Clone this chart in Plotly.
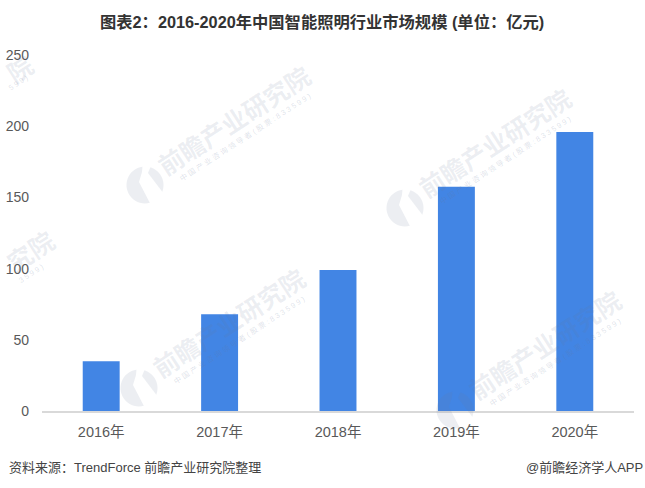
import math
import plotly.graph_objects as go

years = ["2016年", "2017年", "2018年", "2019年", "2020年"]
values = [35, 68, 99, 157.5, 196]
y_ticks = [0, 50, 100, 150, 200, 250]
title = "图表2：2016-2020年中国智能照明行业市场规模 (单位：亿元)"
source = "资料来源：TrendForce 前瞻产业研究院整理"
credit = "@前瞻经济学人APP"
mark_text = "前瞻产业研究院"
mark_sub = "中国产业咨询领导者(股票:833599)"

# ---- page geometry ----
W, H = 645, 488
L, R, T, B = 42, 634, 55, 411
FONT = "Liberation Sans, Noto Sans CJK SC, sans-serif"
INK = "rgba(105,120,155,0.13)"
INK_SUB = "rgba(105,120,155,0.22)"


def px(x, y):
    return (x - L) / (R - L), 1 - (y - T) / (B - T)


def spaced(s):
    return " ".join(s)


def lobe(cx, cy, r, a0, a1, inner):
    pts = []
    n = 24
    for i in range(n + 1):
        a = math.radians(a0 + (a1 - a0) * i / n)
        pts.append(px(cx + r * math.cos(a), cy + r * math.sin(a)))
    pts += [px(cx + dx, cy + dy) for dx, dy in inner]
    return "M" + " L".join(f"{x:.5f},{y:.5f}" for x, y in pts) + " Z"


def rotated(x, y, text, size, color, bold=False):
    tx, ty = px(x, y)
    label = f"<b>{text}</b>" if bold else text
    return dict(xref="paper", yref="paper", x=tx, y=ty, xanchor="center", yanchor="middle",
                text=label, showarrow=False, textangle=-33,
                font=dict(size=size, color=color, family=FONT))


fig = go.Figure(go.Bar(x=years, y=values, width=0.312,
                       marker=dict(color="#4285e4", line_width=0), hoverinfo="x+y"))

ann, shapes = [], []
# full watermarks: logo centre in page pixels
for cx, cy in [(145, 185), (405, 208), (139, 388), (455, 410)]:
    ann.append(rotated(cx + 90, cy - 64, mark_text, 25, INK, bold=True))
    ann.append(rotated(cx + 100, cy - 48, spaced(mark_sub), 7.5, INK_SUB))
    for a0, a1, inner in [
        (262, 75, [(-6, -3), (-3, -13)]),
        (-73, 21, [(3, -12)]),
    ]:
        shapes.append(dict(type="path", xref="paper", yref="paper", layer="above",
                           path=lobe(cx, cy, 18.5, a0, a1, inner), fillcolor=INK, line_width=0))

# watermarks that run off the left edge: only their tail is on the page
ann.append(rotated(20, 70, mark_text[-1:], 25, INK, bold=True))
ann.append(rotated(19, 83, spaced(mark_sub[-4:]), 7.5, INK_SUB))
ann.append(rotated(31, 252, mark_text[-2:], 25, INK, bold=True))
ann.append(rotated(31, 273, spaced(mark_sub[-5:]), 7.5, INK_SUB))

tt = px(322, 21.5)
st = px(7, 467)
ct = px(645, 467)
fig.update_layout(
    width=W, height=H, autosize=False,
    margin=dict(l=L, r=W - R, t=T, b=H - B),
    paper_bgcolor="white", plot_bgcolor="rgba(0,0,0,0)",
    showlegend=False,
    font=dict(family=FONT, color="#595959"),
    xaxis=dict(tickfont=dict(size=14.5, color="#595959"), showline=True, linecolor="#d9d9d9", linewidth=1.5,
               ticks="", showgrid=False, zeroline=False, fixedrange=True, ticklabelstandoff=7,
               automargin=False),
    yaxis=dict(range=[0, 250], tickvals=y_ticks, tickfont=dict(size=14, color="#595959"), showgrid=False,
               showline=False, ticks="", zeroline=False, fixedrange=True, ticklabelstandoff=12,
               automargin=False),
    shapes=shapes,
    annotations=ann + [
        dict(xref="paper", yref="paper", x=tt[0], y=tt[1], xanchor="center", yanchor="middle",
             text=f"<b>{title}</b>", showarrow=False, font=dict(size=16.3, color="#333333", family=FONT)),
        dict(xref="paper", yref="paper", x=st[0], y=st[1], xanchor="left", yanchor="middle",
             text=source, showarrow=False, font=dict(size=13, color="#444444", family=FONT)),
        dict(xref="paper", yref="paper", x=ct[0], y=ct[1], xanchor="right", yanchor="middle",
             text=credit, showarrow=False, font=dict(size=13, color="#444444", family=FONT)),
    ],
)
fig.write_html("out.html", config=dict(displayModeBar=False),
               post_script="document.body.style.margin='0';document.body.style.overflow='hidden';")
